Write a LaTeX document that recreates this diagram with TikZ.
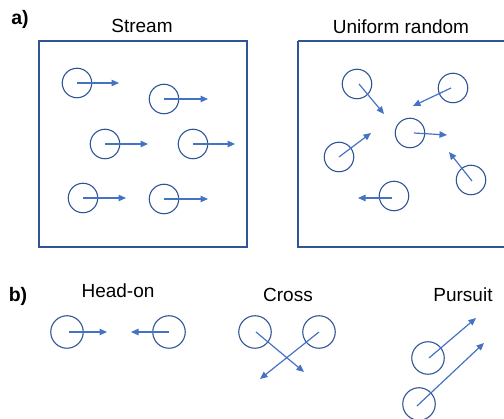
\documentclass[tikz,border=0pt]{standalone}
\usepackage{fontspec}
\setmainfont{Liberation Sans}
\usetikzlibrary{arrows.meta}
\definecolor{boxblue}{HTML}{2F5597}
\definecolor{arrblue}{HTML}{4472C4}
\tikzset{
  frame/.style={draw=boxblue, line width=1.8pt},
  agent/.style={circle, draw=boxblue, line width=1.1pt, minimum size=29.5pt, inner sep=0pt},
  bigagent/.style={agent, minimum size=32.5pt},
  arr/.style={draw=arrblue, line width=1.2pt, -{Triangle[length=7.5pt,width=6.5pt]}},
  ttl/.style={anchor=base, font=\fontsize{19}{20}\selectfont, inner sep=0pt},
  lbl/.style={anchor=base, font=\fontsize{19.5}{20}\selectfont\bfseries, inner sep=0pt}
}
\begin{document}
\begin{tikzpicture}[x=1pt,y=-1pt]
\useasboundingbox (0,0) rectangle (504,419);
% labels
\node[lbl] (la) at (20,25) {a)};
\node[lbl] (lb) at (18,301.5) {b)};
\node[ttl] (t1) at (142,33) {Stream};
\node[ttl] (t2) at (401,34) {Uniform random};
\node[ttl] (t3) at (118,298) {Head-on};
\node[ttl] (t4) at (288,302) {Cross};
\node[ttl] (t5) at (463,302) {Pursuit};
% frames
\draw[frame] (39,41) rectangle (247,247);
\draw[frame] (298,41) -- (298,247) -- (504,247);
\draw[frame] (298,41) -- (504,41);
% Stream
\node[agent] (s1) at (77,83) {};
\node[agent] (s2) at (164,99) {};
\node[agent] (s3) at (105,144) {};
\node[agent] (s4) at (193,144) {};
\node[agent] (s5) at (83,198) {};
\node[agent] (s6) at (164,199) {};
\coordinate (s1e) at (119,83);
\coordinate (s2e) at (208,99);
\coordinate (s3e) at (148,144);
\coordinate (s4e) at (235,144);
\coordinate (s5e) at (126,198);
\coordinate (s6e) at (208,199);
\foreach \i in {1,...,6} \draw[arr] (s\i.center) -- (s\i e);
% Uniform random
\node[agent] (u1) at (357,84) {};
\node[agent] (u2) at (453,88) {};
\node[agent] (u3) at (410,133) {};
\node[agent] (u4) at (339,157) {};
\node[agent] (u5) at (471,180) {};
\node[agent] (u6) at (394,196) {};
\coordinate (u1s) at (359,84);  \coordinate (u1e) at (384,114);
\coordinate (u2s) at (451,88);  \coordinate (u2e) at (413,106);
\coordinate (u3s) at (414,133); \coordinate (u3e) at (447,135);
\coordinate (u4s) at (339,157); \coordinate (u4e) at (371,133);
\coordinate (u5s) at (472,181); \coordinate (u5e) at (449,152);
\coordinate (u6s) at (392,198); \coordinate (u6e) at (358,198);
\foreach \i in {1,...,6} \draw[arr] (u\i s) -- (u\i e);
% Head-on
\node[bigagent] (h1) at (67,332) {};
\node[bigagent] (h2) at (169,332) {};
\coordinate (h1s) at (69,332);  \coordinate (h1e) at (107,332);
\coordinate (h2s) at (169,332); \coordinate (h2e) at (131,332);
\draw[arr] (h1s) -- (h1e);
\draw[arr] (h2s) -- (h2e);
% Cross
\node[bigagent] (c1) at (255,332) {};
\node[bigagent] (c2) at (319,332) {};
\coordinate (c1s) at (256,332); \coordinate (c1e) at (304,372);
\coordinate (c2s) at (319,332); \coordinate (c2e) at (260,379);
\draw[arr] (c1s) -- (c1e);
\draw[arr] (c2s) -- (c2e);
% Pursuit
\node[bigagent] (p1) at (428,358) {};
\node[bigagent] (p2) at (419,404) {};
\coordinate (p1s) at (429,358); \coordinate (p1e) at (476,318);
\coordinate (p2s) at (417,406); \coordinate (p2e) at (484,343);
\draw[arr] (p1s) -- (p1e);
\draw[arr] (p2s) -- (p2e);
\end{tikzpicture}
\end{document}
